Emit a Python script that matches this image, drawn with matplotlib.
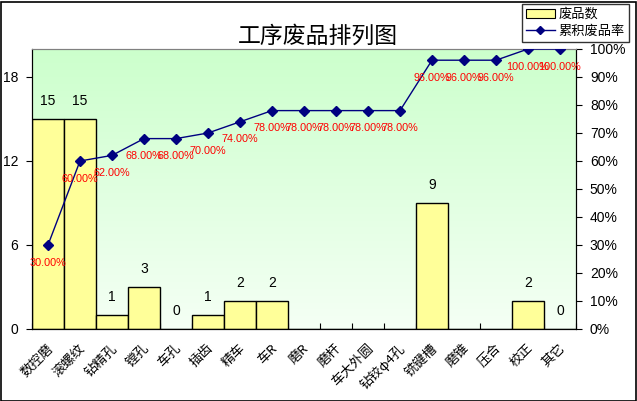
import numpy as np
import matplotlib.pyplot as plt
from matplotlib.lines import Line2D
from matplotlib.patches import Patch

plt.rcParams['font.family'] = ['Noto Sans CJK SC', 'DejaVu Sans']

# data
categories = ['数控磨', '滚螺纹', '钻精孔', '镗孔', '车孔', '插齿', '精车', '车R', '磨R',
              '磨杆', '车大外圆', '钻铰φ4孔', '铣键槽', '磨锥', '压合', '校正', '其它']
counts = [15, 15, 1, 3, 0, 1, 2, 2, None, None, None, None, 9, None, None, 2, 0]
cum_rate = [30, 60, 62, 68, 68, 70, 74, 78, 78, 78, 78, 78, 96, 96, 96, 100, 100]
left_ticks = [0, 6, 12, 18]
right_ticks = list(range(0, 101, 10))

W, H = 637, 401
fig = plt.figure(figsize=(W / 100, H / 100), dpi=100)
fig.patch.set_facecolor('white')
fig.add_artist(plt.Rectangle((0.5 / W, 0.5 / H), 1 - 2 / W, 1 - 2 / H, transform=fig.transFigure,
                             fill=False, edgecolor='black', linewidth=1.2))

ax = fig.add_axes([32 / W, (H - 329) / H, 544 / W, 280 / H])
x = np.arange(len(categories))
n = len(categories)

# green (top) to near white (bottom) background
grad = np.linspace(0, 1, 256).reshape(-1, 1)
top = np.array([0.80, 1.0, 0.80])
bot = np.array([0.96, 1.0, 0.96])
img = top * (1 - grad[..., None]) + bot * grad[..., None]
img = np.repeat(img, 2, axis=1)
ax.imshow(img, extent=(-0.5, n - 0.5, 0, 20), aspect='auto', zorder=0)
ax.set_xlim(-0.5, n - 0.5)
ax.set_ylim(0, 20)

vals = [c if c is not None else 0 for c in counts]
ax.bar(x, vals, width=1.0, color='#FFFF99', edgecolor='black', linewidth=1.0, zorder=2)
for xi, c in zip(x, counts):
    if c is not None:
        ax.text(xi, c + 0.8, str(c), ha='center', va='bottom', fontsize=10,
                family=['Liberation Sans', 'DejaVu Sans'], zorder=5)

ax.set_yticks(left_ticks)
ax.set_yticklabels([str(t) for t in left_ticks], family=['Liberation Sans', 'DejaVu Sans'], fontsize=10)
ax.tick_params(axis='y', direction='out', length=4, pad=6)
ax.set_xticks(np.arange(n + 1) - 0.5)
ax.set_xticklabels([])
ax.tick_params(axis='x', direction='in', length=4)
for xi, name in zip(x, categories):
    ax.text(xi - 0.05, -0.9, name, rotation=45, ha='right', va='top', fontsize=9.5,
            rotation_mode='anchor')
for s in ['left', 'bottom', 'right']:
    ax.spines[s].set_color('black')
ax.spines['top'].set_color('#808080')

ax2 = ax.twinx()
ax2.set_ylim(0, 100)
ax2.plot(x, cum_rate, color='#000080', marker='D', markersize=5, linewidth=1.0, zorder=6)
for xi, r in zip(x, cum_rate):
    ax2.text(xi, r - 4.5, f'{r:.2f}%', ha='center', va='top', fontsize=7.8, color='red',
             family=['Liberation Sans', 'DejaVu Sans'], zorder=7)
ax2.set_yticks(right_ticks)
ax2.set_yticklabels([f'{t}%' for t in right_ticks], family=['Liberation Sans', 'DejaVu Sans'], fontsize=10)
ax2.tick_params(axis='y', direction='out', length=4, pad=6)
ax2.spines['top'].set_color('#808080')

fig.text(318 / W, 1 - 36 / H, '工序废品排列图', ha='center', va='center', fontsize=16.5)

handles = [Patch(facecolor='#FFFF99', edgecolor='black', linewidth=0.8),
           Line2D([0], [0], color='#000080', marker='D', markersize=4, linewidth=1.0)]
leg = fig.legend(handles, ['废品数', '累积废品率'], loc='upper right',
                 bbox_to_anchor=(629 / W, 1 - 4 / H), fontsize=9.5, frameon=True,
                 fancybox=False, borderpad=0.3, labelspacing=0.3, handlelength=2.2,
                 handletextpad=0.3, borderaxespad=0)
leg.get_frame().set_edgecolor('black')
leg.get_frame().set_linewidth(1.0)

fig.savefig('out.png', dpi=100)
